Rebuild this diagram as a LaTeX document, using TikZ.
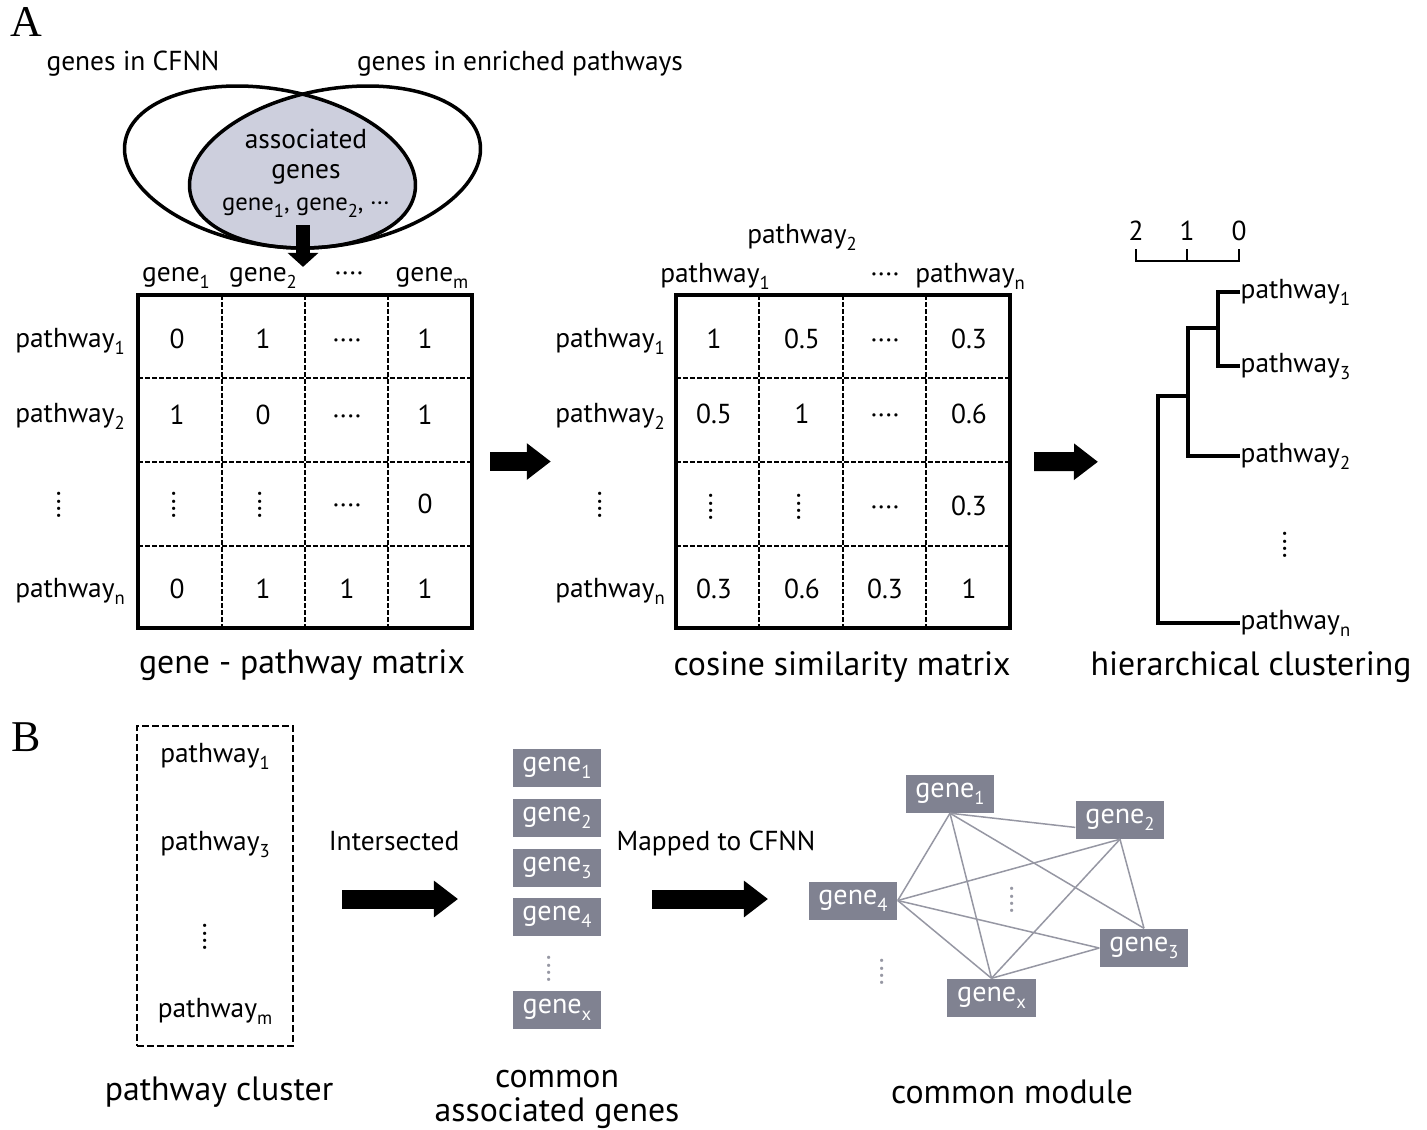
\documentclass[tikz,border=0pt]{standalone}
\usepackage{fontspec}
\setmainfont{PT Sans}
\newfontfamily\panelfont{Liberation Serif}
\usepackage{graphicx}
\usetikzlibrary{arrows.meta}

\definecolor{vennfill}{RGB}{205,207,221}
\definecolor{genegrey}{RGB}{128,130,145}
\definecolor{linkgrey}{RGB}{150,151,163}

\newcommand{\fsz}[1]{\fontsize{#1}{#1}\selectfont}
\newcommand{\sbs}[1]{\raisebox{-2.1pt}{\fsz{5.3}#1}}
\newcommand{\hdts}{····}
\newcommand{\vdts}{\raisebox{-0.5ex}{\rotatebox{90}{····}}}

\tikzset{
  lbl/.style={font=\fsz{7.8}, inner sep=0pt, anchor=base},
  leaf/.style={font=\fsz{7.8}, inner sep=0pt, anchor=base west},
  ttl/.style={font=\fsz{9.6}, inner sep=0pt, anchor=base},
  panel/.style={font=\panelfont\fsz{12.5}, inner sep=0pt},
  mbox/.style={draw, line width=0.04cm, minimum width=3.34cm, minimum height=3.33cm, inner sep=0pt},
  cellline/.style={line width=0.022cm, dash pattern=on 0.045cm off 0.025cm},
  vennline/.style={line width=0.035cm},
  tree/.style={line width=0.035cm},
  gbox/.style={fill=genegrey, text=white, font=\fsz{8}, minimum width=0.88cm, minimum height=0.38cm, inner sep=0pt},
  link/.style={linkgrey, line width=0.015cm},
  bigarrow/.style={line width=0.19cm, -{Triangle[length=0.24cm, width=0.35cm]}},
  venarrow/.style={line width=0.13cm, -{Triangle[length=0.14cm, width=0.3cm]}},
}

\begin{document}
\begin{tikzpicture}[x=0.01cm, y=-0.01cm]
\useasboundingbox (0,0) rectangle (1427,1129);

\node[panel] (PA) at (26,22) {A};
\node[panel] (PB) at (26,737) {B};

% venn diagram
\node[lbl] (SL) at (133,70) {genes in CFNN};
\node[lbl] (SR) at (520,70) {genes in enriched pathways};
\begin{scope}
  \clip[rotate around={-10:(270,167)}] (270,167) ellipse [x radius=1.47cm, y radius=0.78cm];
  \fill[vennfill, rotate around={10:(335,167)}] (335,167) ellipse [x radius=1.47cm, y radius=0.78cm];
\end{scope}
\draw[vennline, rotate around={-10:(270,167)}] (270,167) ellipse [x radius=1.47cm, y radius=0.78cm];
\draw[vennline, rotate around={10:(335,167)}] (335,167) ellipse [x radius=1.47cm, y radius=0.78cm];
\node[lbl] (AG1) at (306,148) {associated};
\node[lbl] (AG2) at (306,178) {genes};
\node[lbl, font=\fsz{7}] (AG3) at (306,210) {gene\sbs{1}, gene\sbs{2}, ···};
\coordinate (VB) at (303,225);

% gene - pathway matrix
\node[mbox] (GP) at (305,461.5) {};
\foreach \x in {222,305,388} \draw[cellline] (\x,295) -- (\x,628);
\foreach \y in {378,462,546} \draw[cellline] (138,\y) -- (472,\y);
\draw[venarrow, shorten >=0.26cm] (VB) -- (VB |- GP.north);
\node[lbl] (C1) at (176,281) {gene\sbs{1}};
\node[lbl] (C2) at (263,281) {gene\sbs{2}};
\node[lbl] (C3) at (349,281) {\hdts};
\node[lbl] (C4) at (432,281) {gene\sbs{m}};
\node[lbl] (R1) at (70,347) {pathway\sbs{1}};
\node[lbl] (R2) at (70,422) {pathway\sbs{2}};
\node[lbl] (R3) at (62,513) {\vdts};
\node[lbl] (R4) at (70,597) {pathway\sbs{n}};
\foreach \y/\a/\b/\cc/\d in {348/0/1/\hdts/1, 424/1/0/\hdts/1, 513/\vdts/\vdts/\hdts/0, 598/0/1/1/1} {
  \node[lbl] at (177,\y) {\a};
  \node[lbl] at (263,\y) {\b};
  \node[lbl] at (347,\y) {\cc};
  \node[lbl] at (425,\y) {\d};
}
\node[ttl] (T1) at (302,673) {gene - pathway matrix};

% cosine similarity matrix
\node[mbox] (CS) at (843,461.5) {};
\foreach \x in {759,843,926} \draw[cellline] (\x,295) -- (\x,628);
\foreach \y in {378,462,546} \draw[cellline] (676,\y) -- (1010,\y);
\node[lbl] (D2) at (802,243) {pathway\sbs{2}};
\node[lbl] (D1) at (715,282) {pathway\sbs{1}};
\node[lbl] (D3) at (885,282) {\hdts};
\node[lbl] (D4) at (970,282) {pathway\sbs{n}};
\node[lbl] (S1) at (610,347) {pathway\sbs{1}};
\node[lbl] (S2) at (610,422) {pathway\sbs{2}};
\node[lbl] (S3) at (603,513) {\vdts};
\node[lbl] (S4) at (610,597) {pathway\sbs{n}};
\foreach \y/\a/\b/\cc/\d in {348/1/0.5/\hdts/0.3, 423/0.5/1/\hdts/0.6, 515/\vdts/\vdts/\hdts/0.3, 598/0.3/0.6/0.3/1} {
  \node[lbl] at (714,\y) {\a};
  \node[lbl] at (802,\y) {\b};
  \node[lbl] at (885,\y) {\cc};
  \node[lbl] at (969,\y) {\d};
}
\node[ttl] (T2) at (842,675) {cosine similarity matrix};
\draw[bigarrow, shorten <=0.16cm, shorten >=1.23cm] (GP) -- (CS);

% hierarchical clustering
\node[lbl] (K2) at (1136,240) {2};
\node[lbl] (K1) at (1187,240) {1};
\node[lbl] (K0) at (1239,240) {0};
\draw[line width=0.028cm] (1136,249) -- (1136,261) -- (1239,261) -- (1239,249);
\draw[line width=0.028cm] (1187,261) -- (1187,249);
\node[leaf] (L1) at (1240,298) {pathway\sbs{1}};
\node[leaf] (L3) at (1240,372) {pathway\sbs{3}};
\node[leaf] (L2) at (1240,462) {pathway\sbs{2}};
\node[lbl] (L4) at (1288,553) {\vdts};
\node[leaf] (Ln) at (1240,629) {pathway\sbs{n}};
\coordinate (J1) at (1218,328);
\coordinate (J2) at (1188,396);
\coordinate (R) at (1158,462);
\draw[tree] (L1.west) -| (J1) |- (L3.west);
\draw[tree] (J1) -| (J2) |- (L2.west);
\draw[tree] (J2) -| (R) |- (Ln.west);
\node[ttl] (T3) at (1251,675) {hierarchical clustering};
\draw[bigarrow, shorten <=0.22cm, shorten >=0.6cm] (CS.east) -- (R);

% pathway cluster
\node[draw, line width=0.02cm, dash pattern=on 0.07cm off 0.03cm, minimum width=1.56cm, minimum height=3.2cm] (PC) at (215,886) {};
\node[lbl] (P1) at (215,762) {pathway\sbs{1}};
\node[lbl] (P3) at (215,850) {pathway\sbs{3}};
\node[lbl] (P4) at (208,945) {\vdts};
\node[lbl] (Pm) at (215,1017) {pathway\sbs{m}};
\node[ttl] (T4) at (219,1100) {pathway cluster};

% common associated genes
\node[lbl] (IS) at (394,850) {Intersected};
\coordinate (B1s) at (342,899);
\coordinate (B1e) at (458,899);
\draw[bigarrow] (B1s) -- (B1e);
\node[gbox] (A1) at (557,767.5) {gene\sbs{1}};
\node[gbox] (A2) at (557,818) {gene\sbs{2}};
\node[gbox] (A3) at (557,868) {gene\sbs{3}};
\node[gbox] (A4) at (557,917) {gene\sbs{4}};
\node[lbl, text=linkgrey] (A5) at (552,977) {\vdts};
\node[gbox] (AX) at (557,1009.5) {gene\sbs{x}};
\node[ttl] (T5) at (557,1087) {common};
\node[ttl] (T6) at (557,1121) {associated genes};

% common module
\node[lbl] (MP) at (716,850) {Mapped to CFNN};
\coordinate (B2s) at (652,899);
\coordinate (B2e) at (768,899);
\draw[bigarrow] (B2s) -- (B2e);
\node[gbox] (G1) at (950,793.5) {gene\sbs{1}};
\node[gbox] (G2) at (1120,819.5) {gene\sbs{2}};
\node[gbox] (G3) at (1144,948) {gene\sbs{3}};
\node[gbox] (G4) at (853,900.5) {gene\sbs{4}};
\node[gbox] (GX) at (991.5,998) {gene\sbs{x}};
\node[lbl, text=linkgrey] (M1) at (1015,908) {\vdts};
\node[lbl, text=linkgrey] (M2) at (885,980) {\vdts};
\foreach \a/\b in {G1.south/G2.190, G1.south/G4.east, G1.south/GX.north, G1.south/G3.north,
                   G2.south/G4.east, G2.south/GX.north, G2.south/G3.north,
                   G4.east/G3.west, G4.east/GX.north, GX.north/G3.west}
  \draw[link] (\a) -- (\b);
\node[ttl] (T7) at (1012,1103) {common module};
\end{tikzpicture}
\end{document}
